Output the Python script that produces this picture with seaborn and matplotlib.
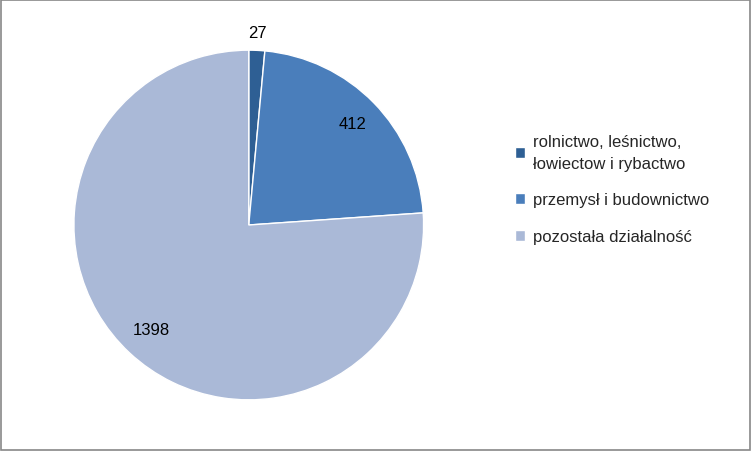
import matplotlib
matplotlib.use("Agg")
import matplotlib.pyplot as plt
import seaborn as sns
import numpy as np

categories = ["rolnictwo, leśnictwo,\nłowiectow i rybactwo", "przemysł i budownictwo", "pozostała działalność"]
values = [27, 412, 1398]
colors = ["#2E5F94", "#4A7EBB", "#AAB9D7"]

sns.set_theme(style="white")
plt.rcParams['font.family'] = ['Liberation Sans', 'DejaVu Sans']

fig = plt.figure(figsize=(7.52, 4.52), dpi=100)
fig.patch.set_facecolor("white")
fig.patches.append(plt.Rectangle((0.001, 0.002), 0.997, 0.996, transform=fig.transFigure,
                                 fill=False, edgecolor="#888888", linewidth=1.2))
ax = fig.add_axes([0.331 - 0.2327, 0.5 - 0.387, 0.465, 0.774])
wedges, _ = ax.pie(values, colors=colors, startangle=90, counterclock=False,
                   wedgeprops=dict(edgecolor="white", linewidth=1.0))
ax.set_aspect("equal")
ax.set_xlim(-1, 1); ax.set_ylim(-1, 1)

total = sum(values)
cum = 0
dists = [1.1, 0.83, 0.82]
for v, d in zip(values, dists):
    mid = np.deg2rad(90 - 360 * (cum + v / 2) / total)
    cum += v
    ax.text(d * np.cos(mid), d * np.sin(mid), str(v), ha="center", va="center",
            fontsize=12, color="black")

leg = fig.legend(wedges, categories, loc="center left", bbox_to_anchor=(0.665, 0.58),
                 frameon=False, fontsize=12, handlelength=0.6, handleheight=0.6,
                 handletextpad=0.5, labelspacing=1.3)
for t in leg.get_texts():
    t.set_linespacing(1.6)
fig.savefig("out.png", dpi=100)
